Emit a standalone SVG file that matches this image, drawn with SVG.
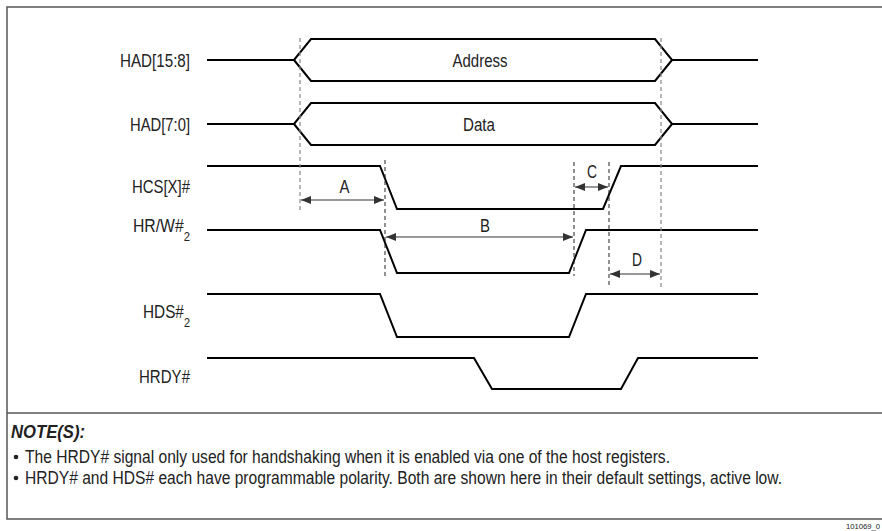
<svg xmlns="http://www.w3.org/2000/svg" width="882" height="531" viewBox="0 0 882 531">
<defs>
<style>
.frame{stroke:#555;stroke-width:1.5;fill:none}
.sig{stroke:#000;stroke-width:2;fill:none;stroke-linejoin:miter}
.dg{stroke:#888;stroke-width:1.2;stroke-dasharray:4 3;fill:none}
.dk{stroke:#222;stroke-width:1;stroke-dasharray:4 3;fill:none}
.arr{stroke:#333;stroke-width:1.2;fill:none}
.lbl{font-family:"Liberation Sans",Arial,sans-serif;font-size:17.5px;fill:#222}
.sub{font-size:12.5px}
.note{font-family:"Liberation Sans",Arial,sans-serif;font-size:17.5px;fill:#222}
.noteh{font-family:"Liberation Sans",Arial,sans-serif;font-size:18px;font-weight:bold;font-style:italic;fill:#222}
</style>
<marker id="ah" viewBox="0 0 10 8" refX="10" refY="4" markerWidth="10" markerHeight="8" markerUnits="userSpaceOnUse" orient="auto-start-reverse">
<path d="M0,0 L10,4 L0,8 Z" fill="#333"/>
</marker>
</defs>
<rect x="0" y="0" width="882" height="531" fill="#fff"/>
<g id="frame">
<path class="frame" d="M882,7 H7 V519 H882"/>
<line x1="7" y1="413" x2="882" y2="413" class="frame"/>
</g>
<g id="signals">
<g id="had158">
<text class="lbl" x="190" y="67" text-anchor="end" textLength="70" lengthAdjust="spacingAndGlyphs">HAD[15:8]</text>
<path class="sig" d="M207,60 H294 L311,39 H655 L672,60 H758"/>
<path class="sig" d="M294,60 L311,81 H655 L672,60"/>
<text class="lbl" x="480" y="67" text-anchor="middle" textLength="55" lengthAdjust="spacingAndGlyphs">Address</text>
</g>
<g id="had70">
<text class="lbl" x="190" y="131" text-anchor="end" textLength="60" lengthAdjust="spacingAndGlyphs">HAD[7:0]</text>
<path class="sig" d="M207,124 H294 L311,103 H655 L672,124 H758"/>
<path class="sig" d="M294,124 L311,145 H655 L672,124"/>
<text class="lbl" x="479" y="131" text-anchor="middle" textLength="32" lengthAdjust="spacingAndGlyphs">Data</text>
</g>
<g id="hcs">
<text class="lbl" x="190" y="193" text-anchor="end" textLength="58" lengthAdjust="spacingAndGlyphs">HCS[X]#</text>
<path class="sig" d="M207,166 H380 L397,209 H603 L621,166 H758"/>
</g>
<g id="hrw">
<text class="lbl" x="133" y="232" textLength="57" lengthAdjust="spacingAndGlyphs">HR/W#<tspan class="sub" dy="9">2</tspan></text>
<path class="sig" d="M207,230 H380 L397,273 H569 L586,230 H758"/>
</g>
<g id="hds">
<text class="lbl" x="143" y="318" textLength="47" lengthAdjust="spacingAndGlyphs">HDS#<tspan class="sub" dy="9">2</tspan></text>
<path class="sig" d="M207,294 H380 L397,337 H569 L586,294 H758"/>
</g>
<g id="hrdy">
<text class="lbl" x="190" y="383" text-anchor="end" textLength="51" lengthAdjust="spacingAndGlyphs">HRDY#</text>
<path class="sig" d="M207,358 H474 L492,389 H621 L638,358 H758"/>
</g>
</g>
<g id="connectors">
<line class="dg" x1="300" y1="38" x2="300" y2="210"/>
<line class="dg" x1="661" y1="38" x2="661" y2="288"/>
<line class="dk" x1="385" y1="160" x2="385" y2="276"/>
<line class="dk" x1="574" y1="162" x2="574" y2="276"/>
<line class="dk" x1="609" y1="162" x2="609" y2="285"/>
<line class="arr" x1="301" y1="200" x2="384" y2="200" marker-start="url(#ah)" marker-end="url(#ah)"/>
<line class="arr" x1="386" y1="237" x2="573" y2="237" marker-start="url(#ah)" marker-end="url(#ah)"/>
<line class="arr" x1="575" y1="187" x2="608" y2="187" marker-start="url(#ah)" marker-end="url(#ah)"/>
<line class="arr" x1="610" y1="274" x2="660" y2="274" marker-start="url(#ah)" marker-end="url(#ah)"/>
<text class="lbl" x="344.5" y="193" text-anchor="middle" textLength="10" lengthAdjust="spacingAndGlyphs">A</text>
<text class="lbl" x="485" y="232" text-anchor="middle" textLength="10" lengthAdjust="spacingAndGlyphs">B</text>
<text class="lbl" x="592" y="178" text-anchor="middle" textLength="10" lengthAdjust="spacingAndGlyphs">C</text>
<text class="lbl" x="637" y="266" text-anchor="middle" textLength="10" lengthAdjust="spacingAndGlyphs">D</text>
</g>
<g id="notes">
<text class="noteh" x="11" y="438" textLength="74" lengthAdjust="spacingAndGlyphs">NOTE(S):</text>
<circle cx="16" cy="457" r="2.3" fill="#222"/>
<text class="note" x="25" y="463" textLength="645" lengthAdjust="spacingAndGlyphs">The HRDY# signal only used for handshaking when it is enabled via one of the host registers.</text>
<circle cx="16" cy="478" r="2.3" fill="#222"/>
<text class="note" x="25" y="484" textLength="757" lengthAdjust="spacingAndGlyphs">HRDY# and HDS# each have programmable polarity. Both are shown here in their default settings, active low.</text>
<text x="846" y="529" style="font-family:'Liberation Sans',Arial,sans-serif;font-size:8px;fill:#222" textLength="34" lengthAdjust="spacingAndGlyphs">101069_0</text>
</g>
</svg>
